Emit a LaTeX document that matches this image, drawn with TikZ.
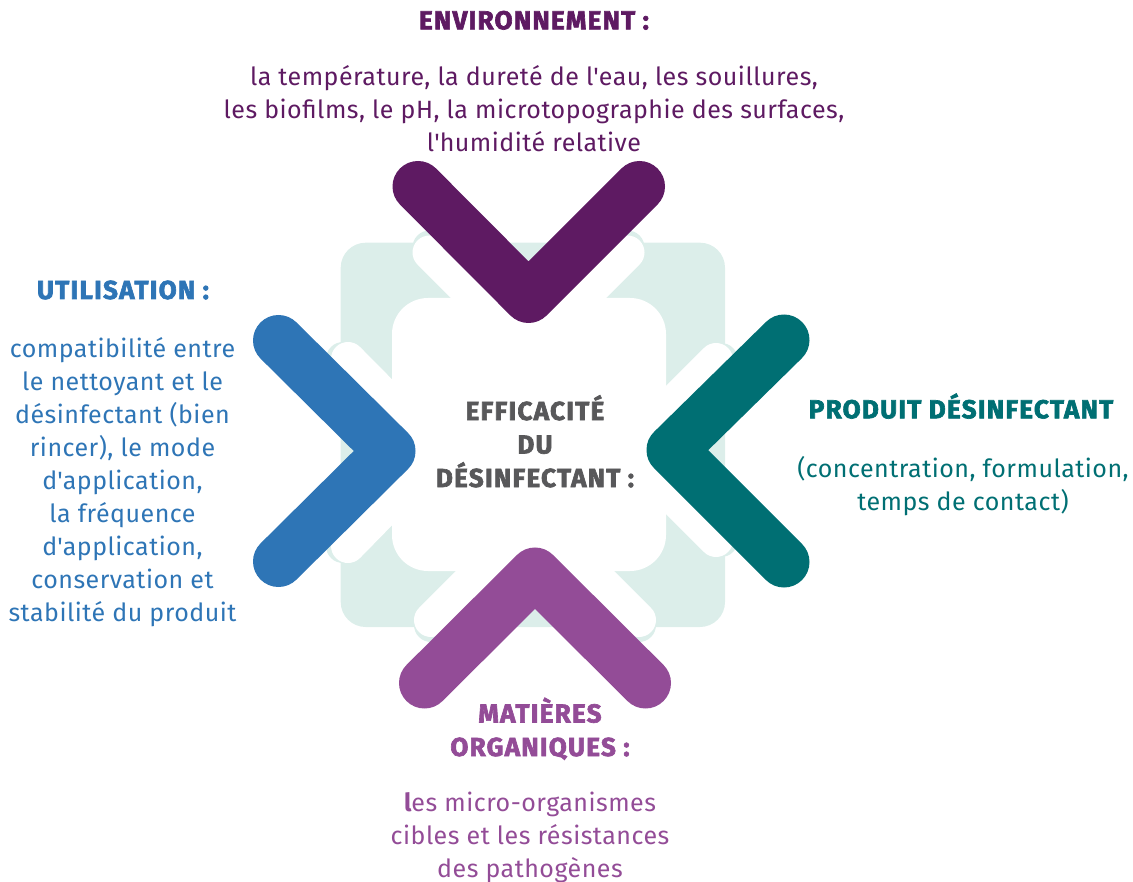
\documentclass[tikz,border=0pt]{standalone}
\usepackage{fontspec}
\setmainfont{Fira Sans}[LetterSpace=2]
\newfontfamily\headfont{Fira Sans}[LetterSpace=5, BoldFeatures={FakeBold=2.5}]
\definecolor{envpurple}{HTML}{5E1A62}
\definecolor{useblue}{HTML}{2E75B6}
\definecolor{prodteal}{HTML}{006F73}
\definecolor{orgviolet}{HTML}{934C97}
\definecolor{paleteal}{HTML}{DCEEEA}
\definecolor{midgray}{HTML}{58585A}
\newcommand{\apos}{\textquotesingle}
\begin{document}
\begin{tikzpicture}[x=1pt,y=-1pt,
  bodytext/.style={font=\fontsize{25}{33}\selectfont, align=center, anchor=base, inner sep=0pt},
  headtext/.style={font=\headfont\bfseries\fontsize{26}{33.5}\selectfont, align=center, anchor=base, inner sep=0pt},
  chevron/.style={line width=51pt, line cap=round, line join=round},
  halo/.style={line width=34pt, line cap=round, line join=round}]
\useasboundingbox (0,0) rectangle (1133,882);

% pale backdrop square
\fill[paleteal, rounded corners=25pt] (340.7,242.7) rectangle (725,627);

% pale shadows behind each chevron
\draw[halo, paleteal] (429.5,247.5) -- (528.5,346.5) -- (627.5,247.5);
\draw[halo, paleteal] (431,625) -- (535,521) -- (639,625);
\draw[halo, paleteal] (343,359) -- (435,452) -- (343,546);
\draw[halo, paleteal] (721,360) -- (631,450) -- (721,540);

% white shadows
\draw[halo, white] (429.5,252.5) -- (528.5,351.5) -- (627.5,252.5);
\draw[halo, white] (431,620) -- (535,516) -- (639,620);
\draw[halo, white] (348,359) -- (440,452) -- (348,546);
\draw[halo, white] (716,360) -- (626,450) -- (716,540);

% white inner square
\fill[white, rounded corners=36pt] (392,298) rectangle (666,571);

% chevrons
\coordinate (topA) at (418,186.5);
\coordinate (topV) at (528.5,297.5);
\coordinate (topB) at (639.5,186.5);
\coordinate (botA) at (424.5,683);
\coordinate (botV) at (535,573);
\coordinate (botB) at (645.5,683);
\coordinate (lefA) at (278.5,340.5);
\coordinate (lefV) at (390,451);
\coordinate (lefB) at (278.5,561.5);
\coordinate (rigA) at (784,340);
\coordinate (rigV) at (672,450);
\coordinate (rigB) at (784,562);
\draw[chevron, envpurple] (topA) -- (topV) -- (topB);
\draw[chevron, orgviolet] (botA) -- (botV) -- (botB);
\draw[chevron, useblue] (lefA) -- (lefV) -- (lefB);
\draw[chevron, prodteal] (rigA) -- (rigV) -- (rigB);

% texts (multi-line nodes are placed by their last baseline)
\node[headtext, envpurple] (envhead) at (534,29.3) {ENVIRONNEMENT :};
\node[bodytext, envpurple] (envbody) at (534,151.7) {la température, la dureté de l\apos eau, les souillures,\\les biofilms, le pH, la microtopographie des surfaces,\\l\apos humidité relative};

\node[headtext, useblue] (usehead) at (123,299) {UTILISATION :};
\node[bodytext, useblue] (usebody) at (122.5,621) {compatibilité entre\\le nettoyant et le\\désinfectant (bien\\rincer), le mode\\d\apos application,\\la fréquence\\d\apos application,\\conservation et\\stabilité du produit};

\node[headtext, prodteal] (prodhead) at (961,418.3) {PRODUIT DÉSINFECTANT};
\node[bodytext, prodteal] (prodbody) at (963,511) {(concentration, formulation,\\temps de contact)};

\node[headtext, midgray] (midhead) at (535,487) {EFFICACITÉ\\DU\\DÉSINFECTANT :};

\node[headtext, orgviolet] (orghead) at (540,756) {MATIÈRES\\ORGANIQUES :};
\node[bodytext, orgviolet] (orgbody) at (530,877) {{\bfseries l}es micro-organismes\\cibles et les résistances\\des pathogènes};
\end{tikzpicture}
\end{document}
